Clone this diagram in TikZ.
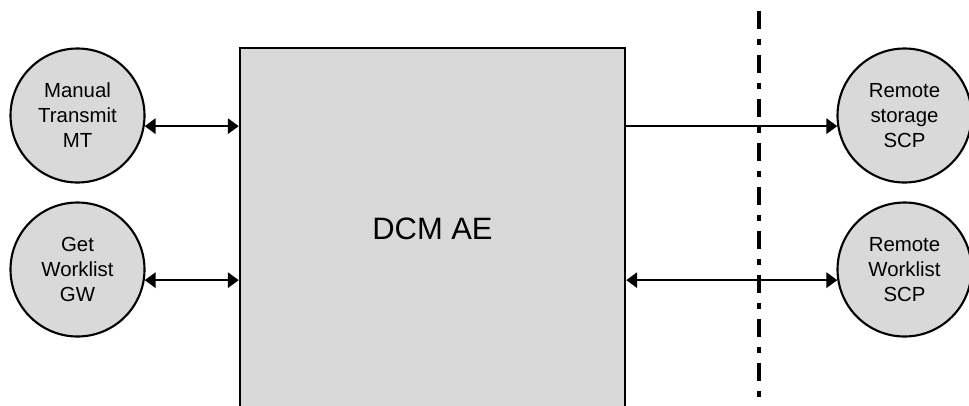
\documentclass[tikz,border=0pt]{standalone}
\usepackage{fontspec}
\setmainfont{Liberation Sans}
\usepackage{xcolor}
\definecolor{aegray}{RGB}{217,217,217}
\usetikzlibrary{arrows.meta}

\begin{document}
\begin{tikzpicture}[
    entity/.style={circle, draw=black, line width=1.5pt, fill=aegray,
                   minimum size=3.35cm, inner sep=0pt, align=center,
                   font=\fontsize{14.5}{17.8}\selectfont},
    aebox/.style={rectangle, draw=black, line width=1.8pt, fill=aegray,
                  minimum width=9.625cm, minimum height=9.05cm,
                  font=\fontsize{22}{26}\selectfont},
    link/.style={line width=1.5pt, -{Triangle[length=0.27cm, width=0.38cm]}},
    bilink/.style={line width=1.5pt, {Triangle[length=0.27cm, width=0.38cm]}-{Triangle[length=0.27cm, width=0.38cm]}}
  ]
      \useasboundingbox (0,0) rectangle (24.225,-10.125);
      \clip (0,0) rectangle (24.225,-10.125);

      % Application entity box
      \node[aebox] (dcm) at (10.8125,-5.725) {DCM AE};

      % Local entities
      \node[entity] (mt) at (1.9375,-2.8875) {Manual\\Transmit\\MT};
      \node[entity] (gw) at (1.9375,-6.7375) {Get\\Worklist\\GW};

      % Remote entities
      \node[entity] (store) at (22.6125,-2.8875) {Remote\\storage\\SCP};
      \node[entity] (rwl) at (22.6125,-6.7375) {Remote\\Worklist\\SCP};

      % Boundary line
      \coordinate (btop) at (18.975,-0.275);
      \coordinate (bbot) at (18.975,-10.2);
      \draw[line width=2.2pt, dash pattern=on 0.45cm off 0.25cm on 0.15cm off 0.25cm]
           (btop) -- (bbot);

      % Associations
      \draw[bilink] (mt.-9) -- (dcm.west |- mt.-9);
      \draw[bilink] (gw.-9) -- (dcm.west |- gw.-9);
      \draw[link] (dcm.east |- store.189) -- (store.189);
      \draw[bilink] (dcm.east |- rwl.189) -- (rwl.189);
\end{tikzpicture}
\end{document}
